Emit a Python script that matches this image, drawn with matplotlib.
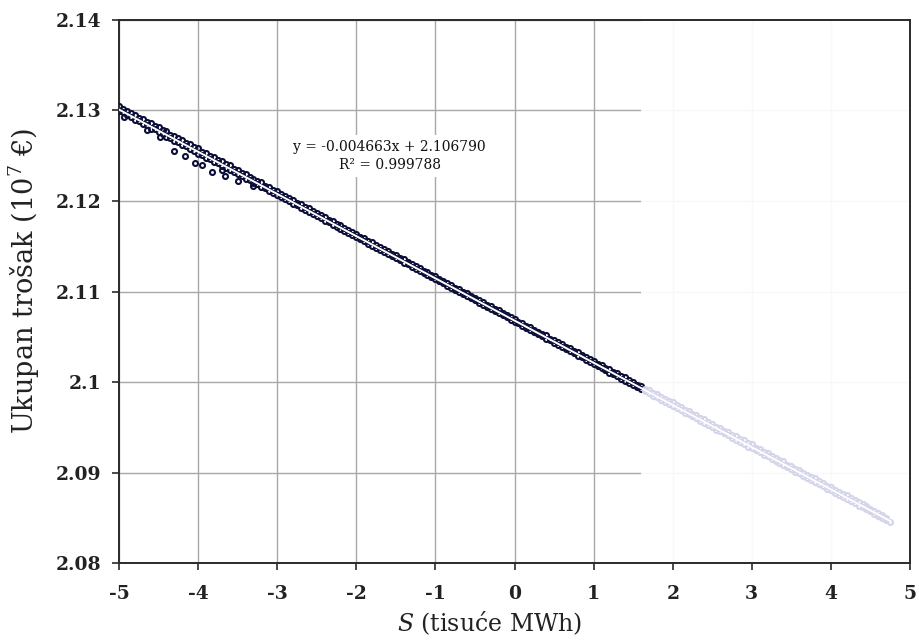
import matplotlib
matplotlib.use("Agg")
import matplotlib.pyplot as plt
from matplotlib.ticker import FixedLocator, FixedFormatter

plt.rcParams['font.family'] = ['DejaVu Serif']
plt.rcParams['mathtext.fontset'] = 'dejavuserif'
plt.rcParams['axes.unicode_minus'] = False

# ---------------- data ----------------
x_ticks = [-5, -4, -3, -2, -1, 0, 1, 2, 3, 4, 5]
x_tick_labels = ["-5", "-4", "-3", "-2", "-1", "0", "1", "2", "3", "4", "5"]
y_ticks = [2.08, 2.09, 2.10, 2.11, 2.12, 2.13, 2.14]
y_tick_labels = ["2.08", "2.09", "2.1", "2.11", "2.12", "2.13", "2.14"]

# dark (observed) points, x in thousands MWh, y in 10^7 EUR
dark_x = [-5.0, -4.9, -4.8, -4.7, -4.6, -4.5, -4.4, -4.3, -4.2, -4.1,
          -4.0, -3.9, -3.8, -3.7, -3.6, -3.5, -3.4, -3.3, -3.2, -3.1,
          -3.0, -2.9, -2.8, -2.7, -2.6, -2.5, -2.4, -2.3, -2.2, -2.1,
          -2.0, -1.9, -1.8, -1.7, -1.6, -1.5, -1.4, -1.3, -1.2, -1.1,
          -1.0, -0.9, -0.8, -0.7, -0.6, -0.5, -0.4, -0.3, -0.2, -0.1,
          0.0, 0.1, 0.2, 0.3, 0.4, 0.5, 0.6, 0.7, 0.8, 0.9,
          1.0, 1.1, 1.2, 1.3, 1.4, 1.5, 1.6]
dark_y_upper = [2.13046, 2.12994, 2.12955, 2.12904, 2.12864, 2.12813, 2.12773, 2.12718, 2.12676, 2.12628,
                2.12585, 2.12533, 2.12489, 2.12437, 2.12394, 2.12342, 2.12299, 2.12248, 2.12205, 2.12154,
                2.12111, 2.12059, 2.12016, 2.11965, 2.11921, 2.11871, 2.11827, 2.11776, 2.11733, 2.11682,
                2.11639, 2.11588, 2.11544, 2.11494, 2.11450, 2.11399, 2.11356, 2.11305, 2.11262, 2.11212,
                2.11167, 2.11118, 2.11074, 2.11023, 2.10980, 2.10930, 2.10887, 2.10836, 2.10792, 2.10743,
                2.10699, 2.10649, 2.10607, 2.10557, 2.10514, 2.10464, 2.10420, 2.10372, 2.10328, 2.10278,
                2.10236, 2.10186, 2.10143, 2.10094, 2.10051, 2.10002, 2.09957]
dark_y_lower = [2.12989, 2.12946, 2.12892, 2.12851, 2.12800, 2.12758, 2.12708, 2.12666, 2.12615, 2.12574,
                2.12523, 2.12480, 2.12429, 2.12387, 2.12338, 2.12295, 2.12245, 2.12203, 2.12153, 2.12111,
                2.12061, 2.12017, 2.11969, 2.11925, 2.11875, 2.11832, 2.11783, 2.11739, 2.11690, 2.11646,
                2.11598, 2.11554, 2.11504, 2.11461, 2.11412, 2.11367, 2.11319, 2.11275, 2.11226, 2.11182,
                2.11133, 2.11089, 2.11040, 2.10995, 2.10947, 2.10902, 2.10854, 2.10809, 2.10760, 2.10716,
                2.10667, 2.10622, 2.10573, 2.10529, 2.10479, 2.10435, 2.10386, 2.10342, 2.10292, 2.10248,
                2.10199, 2.10154, 2.10105, 2.10061, 2.10011, 2.09968, 2.09918]
dark_x_mid = [-4.95, -4.85, -4.75, -4.65, -4.55, -4.45, -4.35, -4.25, -4.15, -4.05,
              -3.95, -3.85, -3.75, -3.65, -3.55, -3.45, -3.35, -3.25, -3.15, -3.05,
              -2.95, -2.85, -2.75, -2.65, -2.55, -2.45, -2.35, -2.25, -2.15, -2.05,
              -1.95, -1.85, -1.75, -1.65, -1.55, -1.45, -1.35, -1.25, -1.15, -1.05,
              -0.95, -0.85, -0.75, -0.65, -0.55, -0.45, -0.35, -0.25, -0.15, -0.05,
              0.05, 0.15, 0.25, 0.35, 0.45, 0.55, 0.65, 0.75, 0.85, 0.95,
              1.05, 1.15, 1.25, 1.35, 1.45, 1.55]
dark_y_mid = [2.13015, 2.12973, 2.12920, 2.12877, 2.12826, 2.12785, 2.12734, 2.12691, 2.12640, 2.12597,
              2.12546, 2.12502, 2.12452, 2.12408, 2.12357, 2.12314, 2.12263, 2.12220, 2.12169, 2.12125,
              2.12075, 2.12031, 2.11980, 2.11937, 2.11886, 2.11842, 2.11792, 2.11748, 2.11698, 2.11654,
              2.11603, 2.11560, 2.11509, 2.11465, 2.11415, 2.11371, 2.11321, 2.11277, 2.11227, 2.11183,
              2.11133, 2.11089, 2.11040, 2.10995, 2.10946, 2.10902, 2.10852, 2.10808, 2.10759, 2.10714,
              2.10666, 2.10622, 2.10573, 2.10529, 2.10480, 2.10437, 2.10388, 2.10343, 2.10295, 2.10251,
              2.10202, 2.10158, 2.10109, 2.10066, 2.10017, 2.09972]
dark_y_mid_lower = [2.12978, 2.12929, 2.12885, 2.12835, 2.12792, 2.12742, 2.12698, 2.12649, 2.12605, 2.12556,
                    2.12512, 2.12462, 2.12419, 2.12369, 2.12325, 2.12276, 2.12232, 2.12183, 2.12139, 2.12089,
                    2.12046, 2.11996, 2.11952, 2.11903, 2.11859, 2.11809, 2.11766, 2.11716, 2.11673, 2.11623,
                    2.11579, 2.11530, 2.11486, 2.11436, 2.11393, 2.11343, 2.11300, 2.11250, 2.11206, 2.11157,
                    2.11113, 2.11063, 2.11020, 2.10970, 2.10927, 2.10877, 2.10833, 2.10784, 2.10740, 2.10690,
                    2.10647, 2.10597, 2.10553, 2.10504, 2.10460, 2.10411, 2.10367, 2.10317, 2.10274, 2.10224,
                    2.10180, 2.10131, 2.10087, 2.10038, 2.09994, 2.09944]
dark_out_x = [-4.94, -4.65, -4.48, -4.31, -4.16, -4.04, -3.95, -3.83, -3.70, -3.66, -3.49, -3.31]
dark_out_y = [2.12932, 2.12786, 2.12712, 2.12547, 2.12492, 2.12420, 2.12401, 2.12316, 2.12346,
              2.12278, 2.12222, 2.12163]

# light (projected) points
light_x_a = [1.7, 1.8, 1.9, 2.0, 2.1, 2.2, 2.3, 2.4, 2.5, 2.6, 2.7, 2.8, 2.9, 3.0, 3.1, 3.2,
             3.3, 3.4, 3.5, 3.6, 3.7, 3.8, 3.9, 4.0, 4.1, 4.2, 4.3, 4.4, 4.5, 4.6, 4.7]
light_y_a_upper = [2.09911, 2.09870, 2.09817, 2.09775, 2.09723, 2.09684, 2.09633, 2.09592, 2.09540,
                   2.09497, 2.09445, 2.09406, 2.09355, 2.09311, 2.09260, 2.09217, 2.09165, 2.09123,
                   2.09071, 2.09028, 2.08977, 2.08934, 2.08882, 2.08840, 2.08788, 2.08746, 2.08694,
                   2.08655, 2.08599, 2.08556, 2.08502]
light_y_a_lower = [2.09876, 2.09831, 2.09783, 2.09738, 2.09690, 2.09644, 2.09597, 2.09551, 2.09503,
                   2.09457, 2.09410, 2.09364, 2.09317, 2.09270, 2.09223, 2.09177, 2.09130, 2.09084,
                   2.09037, 2.08991, 2.08944, 2.08897, 2.08850, 2.08804, 2.08757, 2.08711, 2.08664,
                   2.08617, 2.08571, 2.08524, 2.08477]
light_x_b = [1.65, 1.75, 1.85, 1.95, 2.05, 2.15, 2.25, 2.35, 2.45, 2.55, 2.65, 2.75, 2.85, 2.95,
             3.05, 3.15, 3.25, 3.35, 3.45, 3.55, 3.65, 3.75, 3.85, 3.95, 4.05, 4.15, 4.25, 4.35,
             4.45, 4.55, 4.65]
light_y_b_upper = [2.09928, 2.09881, 2.09834, 2.09788, 2.09741, 2.09695, 2.09648, 2.09601, 2.09555,
                   2.09508, 2.09461, 2.09415, 2.09368, 2.09321, 2.09275, 2.09228, 2.09182, 2.09135,
                   2.09088, 2.09042, 2.08995, 2.08948, 2.08902, 2.08855, 2.08809, 2.08762, 2.08715,
                   2.08669, 2.08622, 2.08575, 2.08529]
light_y_b_lower = [2.09898, 2.09848, 2.09805, 2.09756, 2.09711, 2.09661, 2.09619, 2.09569, 2.09525,
                   2.09475, 2.09432, 2.09383, 2.09338, 2.09287, 2.09246, 2.09196, 2.09152, 2.09102,
                   2.09059, 2.09010, 2.08965, 2.08915, 2.08873, 2.08823, 2.08779, 2.08728, 2.08684,
                   2.08634, 2.08592, 2.08539, 2.08497]
light_out_x = [4.45, 4.62, 4.75]
light_out_y = [2.08630, 2.08520, 2.08457]

# regression shown on the chart
fit_slope = -0.004663
fit_intercept = 2.106790
fit_r2 = 0.999788
fit_x_range = [-5.0, 4.75]
observed_end_x = 1.6

# ---------------- figure ----------------
fig = plt.figure(figsize=(9.19, 6.43), dpi=100)
ax = fig.add_axes([0.1295, 0.1244, 0.8607, 0.8445])

dark = '#0c1038'
light = '#d4d4ea'
ms, mew = 3.6, 1.5

for xs, ys in [(dark_x, dark_y_upper), (dark_x_mid, dark_y_mid), (dark_x, dark_y_lower),
               (dark_x_mid, dark_y_mid_lower), (dark_out_x, dark_out_y)]:
    ax.plot(xs, ys, linestyle='none', marker='o', ms=ms, mfc='none', mec=dark, mew=mew, zorder=3)
for xs, ys in [(light_x_a, light_y_a_upper), (light_x_b, light_y_b_upper),
               (light_x_a, light_y_a_lower), (light_x_b, light_y_b_lower),
               (light_out_x, light_out_y)]:
    ax.plot(xs, ys, linestyle='none', marker='o', ms=ms, mfc='none', mec=light, mew=mew, zorder=3)

fit_y = [fit_intercept + fit_slope * v for v in fit_x_range]
ax.plot(fit_x_range, fit_y, color='white', lw=1.4, zorder=4)

# faded region to the right of the observed data
ax.axvspan(observed_end_x, 5, color='white', alpha=0.93, lw=0, zorder=1)

ax.set_xlim(-5, 5)
ax.set_ylim(2.08, 2.14)
ax.xaxis.set_major_locator(FixedLocator(x_ticks))
ax.xaxis.set_major_formatter(FixedFormatter(x_tick_labels))
ax.yaxis.set_major_locator(FixedLocator(y_ticks))
ax.yaxis.set_major_formatter(FixedFormatter(y_tick_labels))
ax.grid(True, color='#a8a8a8', lw=1.0, zorder=0)
ax.set_axisbelow(True)

for sp in ax.spines.values():
    sp.set_color('#2a2a2a')
    sp.set_linewidth(1.4)

ax.tick_params(axis='both', direction='out', length=5, width=1.2, color='#2a2a2a')
ax.tick_params(axis='x', pad=11)
ax.tick_params(axis='y', pad=8)
for lab in ax.get_xticklabels() + ax.get_yticklabels():
    lab.set_fontsize(13.5)
    lab.set_fontweight('bold')
    lab.set_color('#222222')

ax.set_xlabel('$S$ (tisuće MWh)', fontsize=17, color='#222222')
ax.xaxis.set_label_coords(0.468, -0.085)
ax.set_ylabel('Ukupan trošak (10$^{7}$ €)', fontsize=19.5, color='#222222')
ax.yaxis.set_label_coords(-0.097, 0.52)

ax.text(-1.58, 2.1250, f'y = {fit_slope:.6f}x + {fit_intercept:.6f}\nR² = {fit_r2:.6f}',
        ha='center', va='center', fontsize=10, linespacing=1.35, color='#111111',
        bbox=dict(boxstyle='square,pad=0.35', fc='white', ec='none'), zorder=5)

fig.savefig('out.png', dpi=100)
